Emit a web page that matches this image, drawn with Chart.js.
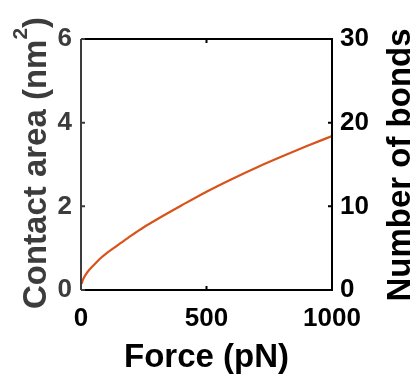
<!DOCTYPE html>
<html>
<head>
<meta charset="utf-8">
<script src="https://cdn.jsdelivr.net/npm/chart.js@4/dist/chart.umd.min.js"></script>
<style>
  html, body { margin: 0; padding: 0; background: #fff; }
  #wrap { width: 417px; height: 374px; }
</style>
</head>
<body>
<div id="wrap"><canvas id="c" width="417" height="374"></canvas></div>
<script>
// Force (pN) and contact area (nm^2) along the loading curve
const force = [3, 6, 12, 20, 30, 45, 60, 80, 100, 130, 160, 200, 250, 300, 400, 500, 600, 700, 800, 900, 1000];
const contactArea = [0.15, 0.22, 0.30, 0.38, 0.46, 0.56, 0.65, 0.77, 0.87, 1.00, 1.13, 1.30, 1.50, 1.68, 2.02, 2.35, 2.65, 2.93, 3.19, 3.44, 3.68];

const xTicks = [0, 500, 1000];
const areaTicks = [0, 2, 4, 6];
const bondTicks = [0, 10, 20, 30];

const xTitle = 'Force (pN)';
const areaTitle = ['Contact area (nm', '2', ')'];
const bondTitle = 'Number of bonds';

const FONT = "'Liberation Sans', Arial, Helvetica, sans-serif";
const LEFT_COLOR = '#3c3c3c';
const LINE_COLOR = '#d95319';
const TICK_FONT = { family: FONT, size: 26, weight: 'bold' };

// Box around the plot, short inward tick marks and the axis titles
const frame = {
  id: 'frame',
  afterDraw(chart) {
    const { ctx, chartArea: a, scales } = chart;
    const len = 4;
    ctx.save();
    ctx.lineWidth = 2;
    ctx.strokeStyle = '#000';
    ctx.beginPath();
    ctx.moveTo(a.left, a.top); ctx.lineTo(a.right, a.top);
    ctx.lineTo(a.right, a.bottom); ctx.lineTo(a.left, a.bottom);
    xTicks.forEach(v => {
      const px = scales.x.getPixelForValue(v);
      ctx.moveTo(px, a.bottom); ctx.lineTo(px, a.bottom - len);
      ctx.moveTo(px, a.top); ctx.lineTo(px, a.top + len);
    });
    bondTicks.forEach(v => {
      const py = scales.y1.getPixelForValue(v);
      ctx.moveTo(a.right, py); ctx.lineTo(a.right - len, py);
    });
    ctx.stroke();
    ctx.strokeStyle = LEFT_COLOR;
    ctx.beginPath();
    ctx.moveTo(a.left, a.top); ctx.lineTo(a.left, a.bottom);
    areaTicks.forEach(v => {
      const py = scales.y.getPixelForValue(v);
      ctx.moveTo(a.left, py); ctx.lineTo(a.left + len, py);
    });
    ctx.stroke();

    // x title
    ctx.fillStyle = '#000';
    ctx.font = `bold 33px ${FONT}`;
    ctx.textAlign = 'center';
    ctx.textBaseline = 'alphabetic';
    ctx.fillText(xTitle, (a.left + a.right) / 2, 367);

    // left title, reading upward, with a raised superscript
    const mainFont = `bold 33px ${FONT}`;
    const supFont = `bold 21px ${FONT}`;
    ctx.fillStyle = LEFT_COLOR;
    ctx.textAlign = 'left';
    ctx.font = mainFont;
    const w0 = ctx.measureText(areaTitle[0]).width;
    const w2 = ctx.measureText(areaTitle[2]).width;
    ctx.font = supFont;
    const w1 = ctx.measureText(areaTitle[1]).width;
    const total = w0 + w1 + w2;
    const midY = 163;
    ctx.save();
    ctx.translate(46, midY + total / 2);
    ctx.rotate(-Math.PI / 2);
    ctx.font = mainFont;
    ctx.fillText(areaTitle[0], 0, 0);
    ctx.font = supFont;
    ctx.fillText(areaTitle[1], w0, -19);
    ctx.font = mainFont;
    ctx.fillText(areaTitle[2], w0 + w1, 0);
    ctx.restore();

    // right title, reading upward
    ctx.fillStyle = '#000';
    ctx.font = mainFont;
    ctx.textAlign = 'center';
    ctx.save();
    ctx.translate(410, 165);
    ctx.rotate(-Math.PI / 2);
    ctx.fillText(bondTitle, 0, 0);
    ctx.restore();
    ctx.restore();
  }
};

new Chart(document.getElementById('c'), {
  type: 'line',
  data: {
    datasets: [{
      data: force.map((f, i) => ({ x: f, y: contactArea[i] })),
      borderColor: LINE_COLOR,
      borderWidth: 2.2,
      pointRadius: 0,
      cubicInterpolationMode: 'monotone',
      fill: false,
      yAxisID: 'y'
    }]
  },
  options: {
    responsive: false,
    animation: false,
    layout: { padding: { top: 39, left: 0, right: 0, bottom: 0 } },
    plugins: { legend: { display: false }, tooltip: { enabled: false } },
    scales: {
      x: {
        type: 'linear', min: 0, max: 1000,
        afterBuildTicks: s => { s.ticks = xTicks.map(v => ({ value: v })); },
        afterFit: s => { s.height = 84; },
        grid: { display: false, drawTicks: false },
        border: { display: false },
        ticks: { color: '#000', padding: 13, maxRotation: 0, font: TICK_FONT,
                 callback: v => String(v) }
      },
      y: {
        type: 'linear', position: 'left', min: 0, max: 6,
        afterBuildTicks: s => { s.ticks = areaTicks.map(v => ({ value: v })); },
        afterFit: s => { s.width = 81; },
        grid: { display: false, drawTicks: false },
        border: { display: false },
        ticks: { color: LEFT_COLOR, padding: 9, font: TICK_FONT, callback: v => String(v) }
      },
      y1: {
        type: 'linear', position: 'right', min: 0, max: 30,
        afterBuildTicks: s => { s.ticks = bondTicks.map(v => ({ value: v })); },
        afterFit: s => { s.width = 85; },
        grid: { display: false, drawTicks: false },
        border: { display: false },
        ticks: { color: '#000', padding: 8, font: TICK_FONT, callback: v => String(v) }
      }
    }
  },
  plugins: [frame]
});
</script>
</body>
</html>
